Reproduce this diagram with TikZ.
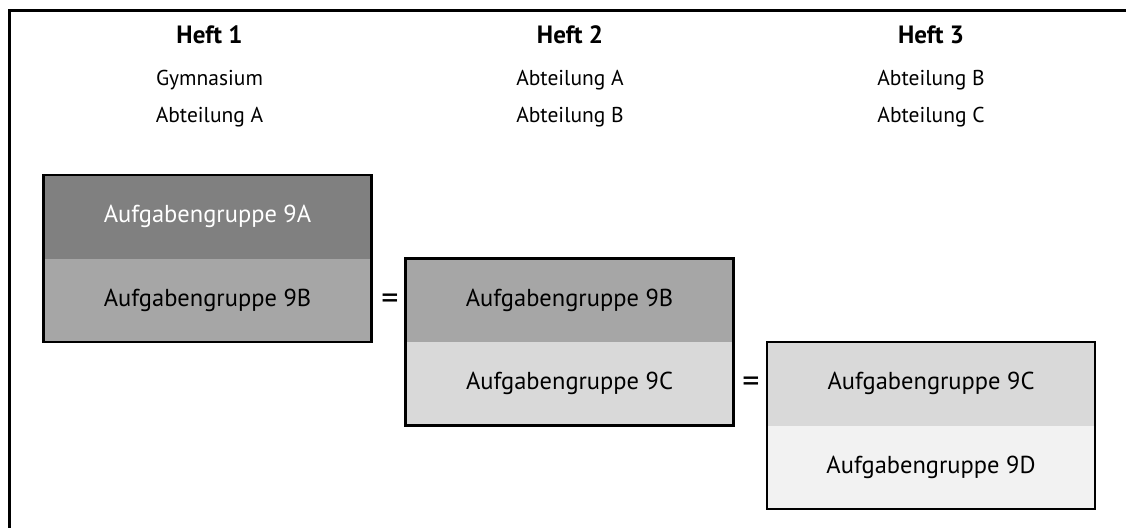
\documentclass[tikz,border=0pt]{standalone}
\usepackage{fontspec}
\setmainfont{PT Sans}
\definecolor{grayA}{RGB}{128,128,128}
\definecolor{grayB}{RGB}{166,166,166}
\definecolor{grayC}{RGB}{217,217,217}
\definecolor{grayD}{RGB}{242,242,242}
\begin{document}
\begin{tikzpicture}[x=1pt,y=-1pt]
\tikzstyle{every node}+=[inner sep=0pt]
\tikzstyle{head}=[anchor=base, font=\bfseries\fontsize{25}{29}\selectfont]
\tikzstyle{sub}=[anchor=base, font=\fontsize{21.5}{25}\selectfont]
\tikzstyle{part}=[minimum width=328pt, minimum height=83.5pt, font=\fontsize{24.5}{28}\selectfont]
\tikzstyle{eq}=[font=\fontsize{34}{38}\selectfont]
\tikzstyle{edge}=[black, line width=2.5pt]
\useasboundingbox (0,0) rectangle (1126,527);
\draw [black, line width=3pt] (9.5,560) -- (9.5,11) -- (1160,11);
% headings
\node [head] (h1) at (209.5,44) {Heft 1};
\node [sub] (h1a) at (209.5,85) {Gymnasium};
\node [sub] (h1b) at (209.5,122) {Abteilung A};
\node [head] (h2) at (570,44) {Heft 2};
\node [sub] (h2a) at (570,85) {Abteilung A};
\node [sub] (h2b) at (570,122) {Abteilung B};
\node [head] (h3) at (931,44) {Heft 3};
\node [sub] (h3a) at (931,85) {Abteilung B};
\node [sub] (h3b) at (931,122) {Abteilung C};
% Heft 1
\node [part, fill=grayA, text=white] (p1a) at (207.5,216.75) {Aufgabengruppe 9A};
\node [part, fill=grayB] (p1b) at (207.5,300.25) {Aufgabengruppe 9B};
\draw [edge] (p1a.north west) rectangle (p1b.south east);
% Heft 2
\node [part, fill=grayB] (p2a) at (569.5,300.25) {Aufgabengruppe 9B};
\node [part, fill=grayC] (p2b) at (569.5,383.75) {Aufgabengruppe 9C};
\draw [edge] (p2a.north west) rectangle (p2b.south east);
% Heft 3
\node [part, fill=grayC] (p3a) at (931,383.75) {Aufgabengruppe 9C};
\node [part, fill=grayD] (p3b) at (931,467.25) {Aufgabengruppe 9D};
\draw [edge] (p3a.north west) rectangle (p3b.south east);
% equal signs
\node [eq] (eq1) at (390,302) {=};
\node [eq] (eq2) at (751,385) {=};
\end{tikzpicture}
\end{document}
